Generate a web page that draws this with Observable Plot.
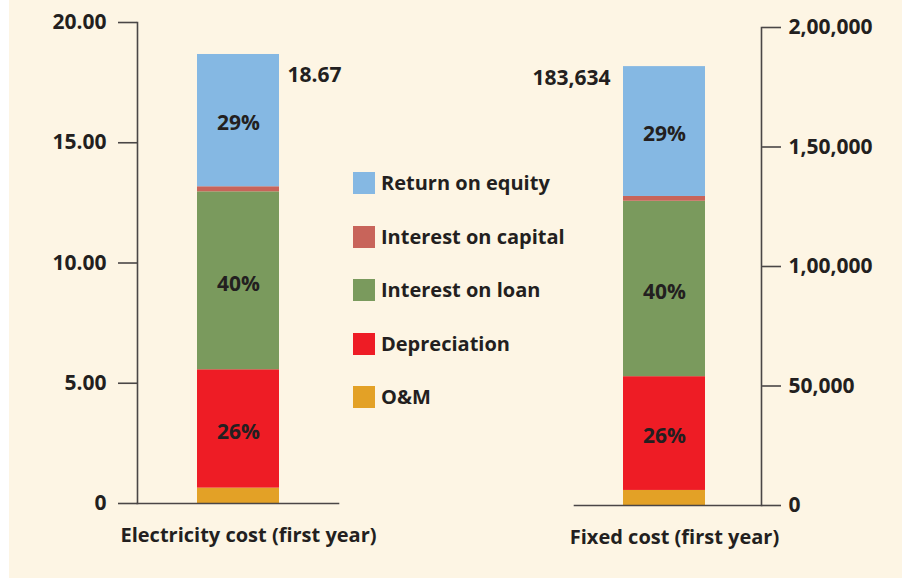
<!DOCTYPE html>
<html>
<head>
<meta charset="utf-8">
<script src="https://cdn.jsdelivr.net/npm/d3@7"></script>
<script src="https://cdn.jsdelivr.net/npm/@observablehq/plot@0.6"></script>
<style>
  html, body { margin: 0; padding: 0; background: #ffffff; }
  #wrap { position: relative; width: 902px; height: 578px; overflow: hidden; background: #ffffff; }
  #bg { position: absolute; left: 9px; top: 0; width: 893px; height: 578px; background: #fdf5e4; }
  .layer { position: absolute; left: 0; top: 0; }
  .layer svg { background: transparent !important; }
  #legend { position: absolute; left: 353px; top: 172px; font-family: "Open Sans", sans-serif; font-weight: 700; font-size: 20px; color: #231f20; }
  .li { position: absolute; left: 0; height: 22px; white-space: nowrap; }
  .sw { position: absolute; left: 0; top: 0; width: 22px; height: 22px; }
  .lt { position: absolute; left: 28px; top: -2px; line-height: 25px; }
</style>
</head>
<body>
<div id="wrap">
  <div id="bg"></div>
  <div id="left" class="layer"></div>
  <div id="right" class="layer"></div>
  <div id="legend"></div>
</div>
<script>
// Components (bottom to top of stack)
const components = ["O&M", "Depreciation", "Interest on loan", "Interest on capital", "Return on equity"];
const componentColors = ["#e3a126", "#ee1c25", "#7a9a5d", "#c8645a", "#85b8e3"];
const legendOrder = ["Return on equity", "Interest on capital", "Interest on loan", "Depreciation", "O&M"];

// Electricity cost (first year), Rs/kWh
const electricityCategory = "Electricity cost (first year)";
const electricityValues = [0.64, 4.92, 7.40, 0.21, 5.50];
const electricityTotal = "18.67";

// Fixed cost (first year)
const fixedCategory = "Fixed cost (first year)";
const fixedValues = [6300, 47600, 73400, 2000, 54334];
const fixedTotal = "183,634";

// Percent labels shown in segments
const percentLabels = ["", "26%", "40%", "", "29%"];

// Axis ticks
const leftTicks = [0, 5, 10, 15, 20];
const leftTickLabels = ["0", "5.00", "10.00", "15.00", "20.00"];
const rightTicks = [0, 50000, 100000, 150000, 200000];
const rightTickLabels = ["0", "50,000", "1,00,000", "1,50,000", "2,00,000"];

const ink = "#231f20";
const axisInk = "#4a4646";
const font = "Open Sans, sans-serif";

function rows(category, values) {
  return components.map((c, i) => ({category, component: c, value: values[i], pct: percentLabels[i]}));
}

const color = {domain: components, range: componentColors};

function makePlot(opts) {
  const data = rows(opts.category, opts.values);
  const totalRow = [{category: opts.category, total: d3.sum(opts.values), label: opts.totalLabel}];
  return Plot.plot({
    width: 902,
    height: 578,
    marginLeft: opts.marginLeft,
    marginRight: opts.marginRight,
    marginTop: opts.marginTop,
    marginBottom: opts.marginBottom,
    style: {background: "transparent", fontFamily: font, fontWeight: 700, fontSize: "20px", color: ink, overflow: "visible"},
    color,
    x: {type: "band", domain: [opts.category], padding: opts.padding, align: opts.align},
    y: {domain: opts.domain},
    marks: [
      Plot.barY(data, Plot.stackY({x: "category", y: "value", z: "component", fill: "component", order: components})),
      Plot.text(data, Plot.stackY({x: "category", y: "value", z: "component", text: "pct", order: components, fill: ink, fontSize: 21, fontWeight: 700, dy: 3})),
      Plot.text(totalRow, {x: "category", y: "total", text: "label", fill: ink, fontSize: 21, fontWeight: 700, dx: opts.totalDx, dy: opts.totalDy, textAnchor: opts.totalAnchor}),
      Plot.frame({anchor: opts.axisAnchor, stroke: axisInk, strokeWidth: 1.6}),
      Plot.frame({anchor: "bottom", stroke: axisInk, strokeWidth: 1.6}),
      Plot.axisY({
        anchor: opts.axisAnchor, ticks: opts.ticks,
        tickFormat: d => opts.tickLabels[opts.ticks.indexOf(d)],
        tickSize: 19, tickPadding: opts.tickPadding, stroke: axisInk, strokeWidth: 1.6,
        fill: ink, fontSize: 21, fontWeight: 700, label: null
      }),
      Plot.axisX({tickSize: 0, tickPadding: 24, dx: 10, fill: ink, fontSize: 20, fontWeight: 700, label: null})
    ]
  });
}

document.getElementById("left").append(makePlot({
  category: electricityCategory, values: electricityValues, totalLabel: electricityTotal,
  marginLeft: 137, marginRight: 902 - 338, marginTop: 22, marginBottom: 578 - 503,
  padding: 0.42, align: 0.5, domain: [0, 20],
  ticks: leftTicks, tickLabels: leftTickLabels, tickPadding: 12,
  axisAnchor: "left", totalDx: 49, totalDy: 21, totalAnchor: "start"
}));

document.getElementById("right").append(makePlot({
  category: fixedCategory, values: fixedValues, totalLabel: fixedTotal,
  marginLeft: 574, marginRight: 902 - 761, marginTop: 27, marginBottom: 578 - 505,
  padding: 0.39, align: 0.467, domain: [0, 200000],
  ticks: rightTicks, tickLabels: rightTickLabels, tickPadding: 8,
  axisAnchor: "right", totalDx: -54, totalDy: 12, totalAnchor: "end"
}));

// Legend
const legend = document.getElementById("legend");
legendOrder.forEach((name, i) => {
  const item = document.createElement("div");
  item.className = "li";
  item.style.top = (i * 53.5) + "px";
  const sw = document.createElement("div");
  sw.className = "sw";
  sw.style.background = componentColors[components.indexOf(name)];
  const t = document.createElement("div");
  t.className = "lt";
  t.textContent = name;
  item.append(sw, t);
  legend.append(item);
});
</script>
</body>
</html>
